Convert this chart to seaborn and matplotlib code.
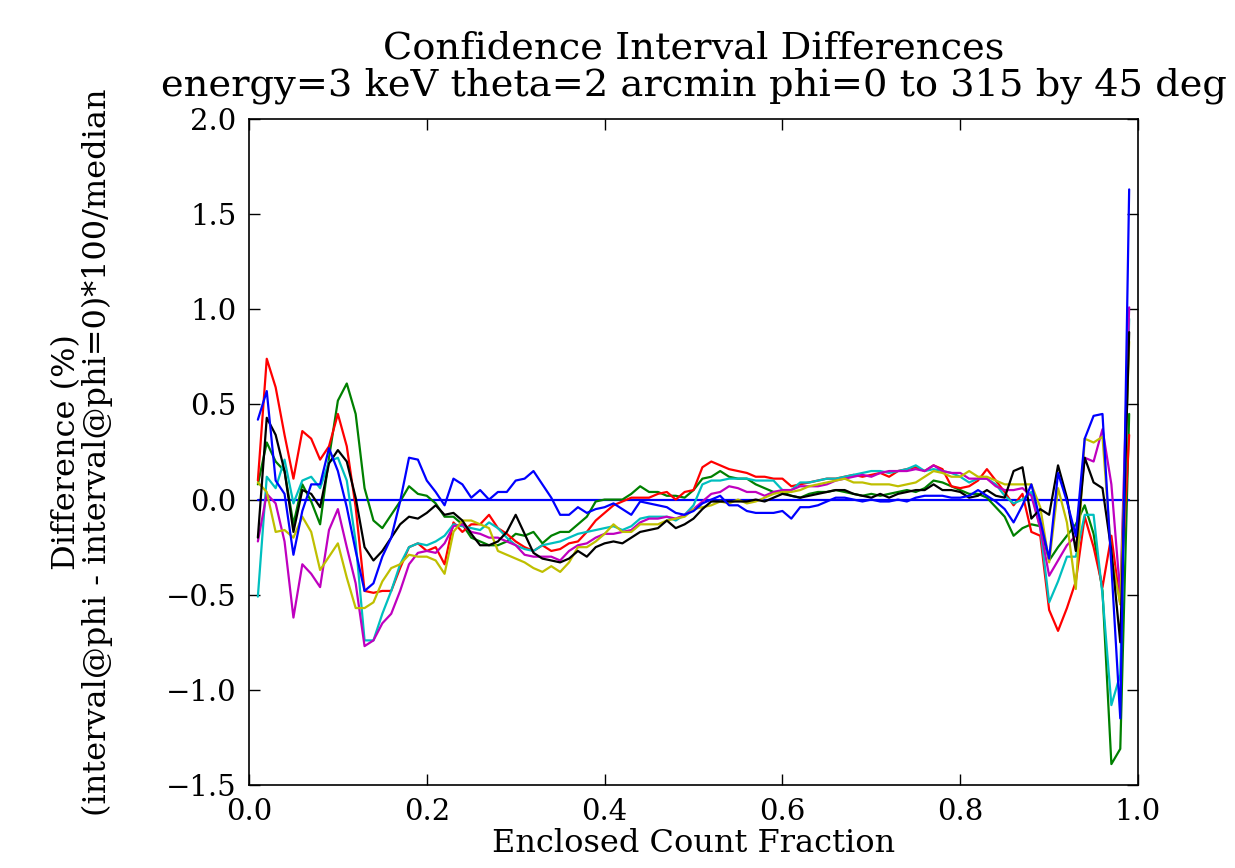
import numpy as np
import pandas as pd
import matplotlib
matplotlib.use("Agg")
import matplotlib.pyplot as plt
import seaborn as sns

# enclosed count fraction grid
frac = np.round(np.arange(1, 100) * 0.01, 2)

# difference (%) relative to phi=0, one list per phi
phi_0 = [0.0] * 99

phi_45 = [
    0.08, 0.30, 0.20, 0.15, -0.13, 0.08, -0.01, -0.13, 0.22, 0.52,
    0.61, 0.45, 0.06, -0.11, -0.15, -0.08, -0.01, 0.07, 0.03, 0.02,
    -0.02, -0.09, -0.09, -0.13, -0.20, -0.22, -0.24, -0.24, -0.22, -0.18,
    -0.19, -0.17, -0.23, -0.19, -0.17, -0.17, -0.13, -0.09, -0.01, 0.00,
    0.00, 0.00, 0.03, 0.07, 0.04, 0.04, 0.02, 0.02, 0.01, 0.05,
    0.11, 0.12, 0.15, 0.12, 0.11, 0.11, 0.08, 0.06, 0.04, 0.04,
    0.02, 0.01, 0.03, 0.04, 0.04, 0.05, 0.04, 0.03, 0.02, 0.03,
    0.02, 0.03, 0.04, 0.05, 0.04, 0.06, 0.10, 0.09, 0.07, 0.05,
    0.03, 0.03, 0.01, -0.04, -0.09, -0.19, -0.15, -0.13, -0.14, -0.32,
    -0.25, -0.19, -0.13, -0.03, -0.18, -0.48, -1.39, -1.31, 0.45,
]

phi_90 = [
    0.10, 0.74, 0.59, 0.34, 0.11, 0.36, 0.32, 0.21, 0.28, 0.45,
    0.28, -0.04, -0.48, -0.49, -0.48, -0.48, -0.36, -0.25, -0.23, -0.27,
    -0.25, -0.34, -0.12, -0.17, -0.13, -0.13, -0.08, -0.15, -0.18, -0.22,
    -0.25, -0.27, -0.24, -0.27, -0.26, -0.23, -0.22, -0.17, -0.11, -0.07,
    -0.03, -0.01, 0.01, 0.01, 0.01, 0.03, 0.04, 0.00, 0.04, 0.05,
    0.17, 0.20, 0.18, 0.16, 0.15, 0.14, 0.12, 0.12, 0.11, 0.11,
    0.07, 0.08, 0.09, 0.10, 0.11, 0.11, 0.12, 0.13, 0.12, 0.13,
    0.14, 0.12, 0.15, 0.16, 0.17, 0.15, 0.18, 0.16, 0.07, 0.06,
    0.07, 0.10, 0.16, 0.10, 0.04, -0.03, 0.03, -0.17, -0.19, -0.58,
    -0.69, -0.57, -0.43, -0.09, -0.25, -0.46, -0.19, -0.55, 0.34,
]

phi_135 = [
    -0.51, 0.12, 0.06, 0.21, -0.02, 0.10, 0.12, 0.06, 0.20, 0.22,
    0.10, -0.22, -0.74, -0.74, -0.60, -0.48, -0.34, -0.25, -0.23, -0.24,
    -0.22, -0.19, -0.13, -0.14, -0.15, -0.16, -0.12, -0.15, -0.20, -0.24,
    -0.26, -0.27, -0.24, -0.23, -0.22, -0.20, -0.18, -0.17, -0.16, -0.15,
    -0.14, -0.16, -0.14, -0.10, -0.09, -0.09, -0.09, -0.11, -0.08, -0.03,
    0.08, 0.10, 0.10, 0.11, 0.11, 0.11, 0.10, 0.10, 0.10, 0.05,
    0.05, 0.09, 0.09, 0.10, 0.11, 0.11, 0.12, 0.13, 0.14, 0.15,
    0.15, 0.14, 0.15, 0.16, 0.18, 0.15, 0.16, 0.15, 0.14, 0.12,
    0.09, 0.11, 0.11, 0.08, 0.02, -0.02, 0.00, 0.04, -0.15, -0.54,
    -0.43, -0.30, -0.30, -0.08, -0.08, -0.50, -1.08, -0.92, 0.95,
]

phi_180 = [
    -0.22, 0.03, -0.02, -0.22, -0.62, -0.34, -0.39, -0.46, -0.16, -0.05,
    -0.25, -0.44, -0.77, -0.74, -0.65, -0.60, -0.48, -0.34, -0.28, -0.27,
    -0.28, -0.23, -0.14, -0.13, -0.17, -0.18, -0.20, -0.20, -0.22, -0.24,
    -0.29, -0.30, -0.30, -0.30, -0.32, -0.27, -0.24, -0.23, -0.20, -0.18,
    -0.18, -0.17, -0.16, -0.12, -0.10, -0.10, -0.09, -0.10, -0.08, -0.05,
    -0.01, 0.03, 0.04, 0.07, 0.06, 0.04, 0.04, 0.02, 0.04, 0.05,
    0.05, 0.07, 0.07, 0.07, 0.08, 0.10, 0.11, 0.12, 0.13, 0.12,
    0.14, 0.15, 0.15, 0.15, 0.16, 0.15, 0.18, 0.15, 0.14, 0.14,
    0.11, 0.11, 0.11, 0.07, 0.05, 0.05, 0.06, 0.02, -0.15, -0.40,
    -0.32, -0.24, -0.19, 0.22, 0.20, 0.37, 0.08, -0.50, 1.01,
]

phi_225 = [
    0.09, 0.04, -0.17, -0.16, -0.20, -0.09, -0.17, -0.37, -0.30, -0.23,
    -0.41, -0.57, -0.57, -0.54, -0.43, -0.36, -0.34, -0.29, -0.30, -0.30,
    -0.32, -0.39, -0.17, -0.11, -0.11, -0.13, -0.15, -0.27, -0.29, -0.31,
    -0.33, -0.36, -0.38, -0.35, -0.38, -0.33, -0.25, -0.25, -0.22, -0.18,
    -0.13, -0.17, -0.17, -0.13, -0.13, -0.13, -0.11, -0.10, -0.09, -0.05,
    -0.04, -0.03, -0.01, -0.02, 0.00, -0.02, -0.01, 0.01, 0.03, 0.04,
    0.04, 0.05, 0.07, 0.08, 0.09, 0.10, 0.11, 0.09, 0.09, 0.08,
    0.08, 0.08, 0.07, 0.08, 0.09, 0.12, 0.15, 0.14, 0.12, 0.12,
    0.15, 0.12, 0.12, 0.10, 0.08, 0.08, 0.08, 0.08, -0.04, -0.33,
    0.06, -0.12, -0.47, 0.32, 0.30, 0.33, -0.30, -0.55, 0.83,
]

phi_270 = [
    -0.20, 0.43, 0.34, 0.15, -0.17, 0.05, 0.03, -0.04, 0.19, 0.26,
    0.20, 0.01, -0.25, -0.32, -0.27, -0.20, -0.13, -0.09, -0.10, -0.07,
    -0.03, -0.08, -0.07, -0.11, -0.18, -0.24, -0.24, -0.22, -0.17, -0.08,
    -0.18, -0.28, -0.31, -0.32, -0.33, -0.31, -0.27, -0.30, -0.25, -0.23,
    -0.22, -0.23, -0.20, -0.17, -0.16, -0.15, -0.11, -0.15, -0.13, -0.10,
    -0.05, -0.01, -0.01, -0.01, -0.01, -0.01, 0.00, -0.01, 0.01, 0.03,
    0.02, 0.01, 0.02, 0.03, 0.04, 0.05, 0.05, 0.03, 0.02, 0.01,
    0.03, 0.01, 0.03, 0.04, 0.05, 0.05, 0.08, 0.05, 0.05, 0.04,
    0.01, 0.02, 0.05, 0.02, 0.01, 0.15, 0.17, -0.10, -0.05, -0.08,
    0.18, 0.01, -0.27, 0.22, 0.09, 0.06, -0.27, -0.75, 0.88,
]

phi_315 = [
    0.42, 0.57, 0.10, 0.03, -0.29, -0.06, 0.08, 0.08, 0.27, 0.15,
    -0.04, -0.27, -0.48, -0.44, -0.30, -0.20, -0.01, 0.22, 0.21, 0.10,
    0.04, -0.03, 0.11, 0.08, 0.01, 0.05, 0.00, 0.04, 0.04, 0.10,
    0.11, 0.15, 0.08, 0.01, -0.08, -0.08, -0.04, -0.07, -0.05, -0.04,
    -0.02, -0.05, -0.08, -0.01, -0.02, -0.03, -0.04, -0.07, -0.08, -0.06,
    -0.02, 0.00, 0.02, -0.03, -0.03, -0.06, -0.07, -0.07, -0.07, -0.06,
    -0.10, -0.04, -0.04, -0.03, -0.01, 0.01, 0.01, 0.00, -0.01, 0.00,
    -0.01, -0.01, 0.00, -0.01, 0.01, 0.02, 0.02, 0.02, 0.01, 0.01,
    0.02, 0.05, 0.02, -0.01, -0.05, -0.12, -0.03, 0.08, -0.11, -0.31,
    0.14, -0.01, -0.19, 0.32, 0.44, 0.45, -0.35, -1.15, 1.63,
]

phis = [0, 45, 90, 135, 180, 225, 270, 315]
series = [phi_0, phi_45, phi_90, phi_135, phi_180, phi_225, phi_270, phi_315]

# old matplotlib colour cycle b g r c m y k (then b again)
colors = ['#0000ff', '#008000', '#ff0000', '#00bfbf',
          '#bf00bf', '#bfbf00', '#000000', '#0000ff']

rows = []
for p, vals in zip(phis, series):
    for f, v in zip(frac, vals):
        rows.append({'frac': f, 'diff': v, 'phi': p})
df = pd.DataFrame(rows)

sns.set_style("ticks")
plt.rcParams['font.family'] = ['DejaVu Serif']
plt.rcParams['text.color'] = 'black'
plt.rcParams['axes.labelcolor'] = 'black'
plt.rcParams['xtick.color'] = 'black'
plt.rcParams['ytick.color'] = 'black'
plt.rcParams['axes.unicode_minus'] = True

fig, ax = plt.subplots(figsize=(12.35, 8.68), dpi=100)
fig.subplots_adjust(left=0.2016, right=0.9215, top=0.8629, bottom=0.0956)

sns.lineplot(data=df, x='frac', y='diff', hue='phi', hue_order=phis,
             palette=colors, estimator=None, sort=False, legend=False,
             linewidth=1.6, ax=ax)

ax.set_xlim(0.0, 1.0)
ax.set_ylim(-1.5, 2.0)
ax.set_xticks(np.arange(0.0, 1.01, 0.2))
ax.set_yticks(np.arange(-1.5, 2.01, 0.5))
fmt = matplotlib.ticker.FuncFormatter(lambda v, pos: f'{v:.1f}'.replace('-', '\u2212'))
ax.xaxis.set_major_formatter(fmt)
ax.yaxis.set_major_formatter(fmt)
ax.tick_params(direction='in', top=True, right=True, length=8, width=1,
               pad=9, labelsize=21, colors='black')
for s in ax.spines.values():
    s.set_visible(True)
    s.set_linewidth(1.2)
    s.set_color('black')

ax.set_xlabel('Enclosed Count Fraction', fontsize=23, labelpad=2)
ax.set_ylabel('Difference (%)\n(interval@phi - interval@phi=0)*100/median',
              fontsize=23, labelpad=38, linespacing=1.0)
ax.set_title('Confidence Interval Differences\n'
             'energy=3 keV theta=2 arcmin phi=0 to 315 by 45 deg',
             fontsize=27.6, pad=17, linespacing=1.02)

fig.savefig('out.png', dpi=100)
